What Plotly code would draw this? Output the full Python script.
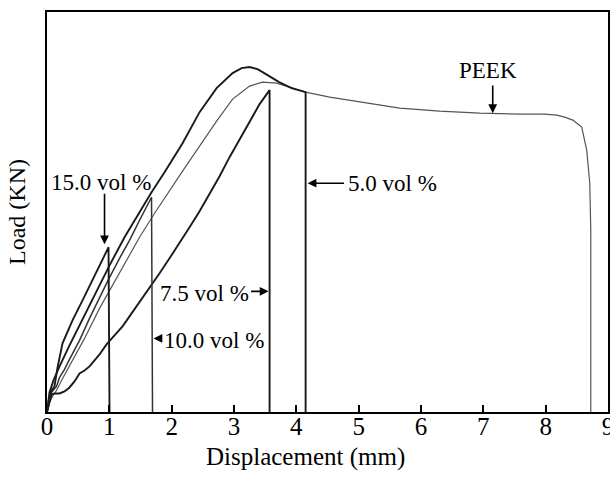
import plotly.graph_objects as go

# Displacement (mm) and load (arbitrary units, no tick labels on the load axis)
peek_x = [0, 0.04, 0.088, 0.152, 0.233, 0.361, 0.602, 0.843, 1.003, 1.244, 1.485, 1.726, 1.966, 2.207,
          2.448, 2.721, 2.978, 3.25, 3.459, 3.684, 3.892, 4.149, 4.535, 4.856, 5.658, 6.3, 6.942, 7.584,
          7.986, 8.178, 8.307, 8.435, 8.579, 8.659, 8.708, 8.724, 8.724]
peek_y = [0, 9.5, 15.5, 21.5, 31.5, 46.5, 73.5, 103.5, 121.5, 148.5, 174.5, 198.5, 221.5, 243.5,
          265.5, 290.5, 312.5, 325.5, 329.5, 328.5, 324.5, 319.5, 314.5, 311.5, 303.5, 300.5, 298.5, 297.5,
          297.5, 296.5, 294.5, 291.5, 284.5, 261.5, 228.5, 181.5, 0]

v5_x = [0, 0.04, 0.104, 0.201, 0.361, 0.602, 0.843, 1.003, 1.244, 1.485, 1.677, 1.886, 2.175, 2.448,
        2.721, 2.978, 3.122, 3.25, 3.379, 3.539, 3.724, 3.924, 4.149, 4.149]
v5_y = [0, 19.5, 31.5, 45.5, 66.5, 96.5, 126.5, 146.5, 174.5, 199.5, 219.5, 239.5, 268.5, 299.5,
        323.5, 338.5, 343.5, 344.5, 342.5, 336.5, 329.5, 323.5, 319.5, 0]

v75_x = [0, 0.04, 0.072, 0.12, 0.201, 0.281, 0.361, 0.441, 0.522, 0.602, 0.682, 0.843, 0.955, 1.083,
         1.212, 1.324, 1.485, 1.645, 1.806, 1.966, 2.127, 2.287, 2.448, 2.608, 2.769, 2.929, 3.09, 3.25,
         3.411, 3.571, 3.571]
v75_y = [0, 10.5, 17.5, 18.5, 18.5, 20.5, 24.5, 30.5, 38.5, 41.5, 45.5, 57.5, 67.5, 76.5,
         85.5, 95.5, 109.5, 123.5, 138.5, 153.5, 168.5, 184.5, 200.5, 217.5, 235.5, 254.5, 272.5, 289.5,
         307.5, 321.5, 0]

v10_x = [0, 0.024, 0.056, 0.104, 0.152, 0.201, 0.281, 0.361, 0.522, 0.682, 0.843, 0.987, 1.164, 1.324,
         1.485, 1.677, 1.693]
v10_y = [0, 11.5, 18.5, 21.5, 25.5, 34.5, 42.5, 52.5, 71.5, 93.5, 114.5, 132.5, 153.5, 171.5,
         191.5, 214.5, 0]

v15_x = [0, 0.04, 0.072, 0.12, 0.169, 0.249, 0.409, 0.57, 0.778, 0.987, 1.003]
v15_y = [0, 13.5, 21.5, 25.5, 44.5, 68.5, 91.5, 111.5, 138.5, 164.5, 0]

x_ticks = [0, 1, 2, 3, 4, 5, 6, 7, 8, 9]
X_RANGE = [0, 9.0005]

FONT = "Liberation Serif"

fig = go.Figure()
fig.add_trace(go.Scatter(x=peek_x, y=peek_y, mode="lines", line=dict(color="#555555", width=1.2), name="PEEK"))
fig.add_trace(go.Scatter(x=v5_x, y=v5_y, mode="lines", line=dict(color="#1a1a1a", width=1.9), name="5.0 vol %"))
fig.add_trace(go.Scatter(x=v75_x, y=v75_y, mode="lines", line=dict(color="#1a1a1a", width=1.9), name="7.5 vol %"))
fig.add_trace(go.Scatter(x=v10_x, y=v10_y, mode="lines", line=dict(color="#333333", width=1.5), name="10.0 vol %"))
# last series drawn on the label-carrying overlay axis (identical range/domain)
fig.add_trace(go.Scatter(x=v15_x, y=v15_y, mode="lines", line=dict(color="#1a1a1a", width=1.9),
                         name="15.0 vol %", xaxis="x2", yaxis="y"))

ann_font = dict(family=FONT, size=23, color="black")
arrow = dict(showarrow=True, arrowhead=2, arrowsize=1.1, arrowwidth=1.6, arrowcolor="black",
             xref="x", yref="y", axref="x", ayref="y", standoff=0, text="")

annotations = [
    dict(x=7.07, y=341, text="PEEK", showarrow=False, font=ann_font, xanchor="center", yanchor="middle"),
    dict(arrow, x=7.151, y=298.5, ax=7.151, ay=327.5),
    dict(x=0.859, y=229.5, text="15.0 vol %", showarrow=False, font=ann_font, xanchor="center", yanchor="middle"),
    dict(arrow, x=0.923, y=167.5, ax=0.923, ay=219.5),
    dict(x=4.80, y=228.5, text="5.0 vol %", showarrow=False, font=ann_font, xanchor="left", yanchor="middle"),
    dict(arrow, x=4.181, y=228.5, ax=4.79, ay=228.5),
    dict(x=3.27, y=118.5, text="7.5 vol %", showarrow=False, font=ann_font, xanchor="right", yanchor="middle"),
    dict(arrow, x=3.555, y=120.5, ax=3.25, ay=120.5),
    dict(x=1.84, y=71.5, text="10.0 vol %", showarrow=False, font=ann_font, xanchor="left", yanchor="middle"),
    dict(arrow, x=1.709, y=73.5, ax=1.85, ay=73.5),
    dict(x=0.46, y=-0.112, xref="paper", yref="paper", text="Displacement (mm)", showarrow=False,
         font=dict(family=FONT, size=25, color="black"), xanchor="center", yanchor="middle"),
]

fig.update_layout(
    width=610, height=478,
    margin=dict(l=47, r=2, t=12, b=66, autoexpand=False),
    paper_bgcolor="white", plot_bgcolor="white",
    showlegend=False,
    font=dict(family=FONT, color="black"),
    annotations=annotations,
    xaxis=dict(
        range=X_RANGE, tickvals=x_ticks, showticklabels=False, automargin=False,
        ticks="inside", ticklen=7, tickwidth=1.5, tickcolor="black",
        showline=True, linecolor="black", linewidth=1.8, mirror=True,
        showgrid=False, zeroline=False,
    ),
    xaxis2=dict(
        range=X_RANGE, overlaying="x", anchor="free", position=0.008, side="bottom",
        tickvals=x_ticks, ticktext=[str(v) for v in x_ticks], ticks="", automargin=False,
        showline=False, showgrid=False, zeroline=False,
        ticklabeloverflow="allow",
        tickfont=dict(family=FONT, size=25, color="black"),
    ),
    yaxis=dict(
        range=[0, 399.5], showticklabels=False, ticks="", automargin=False,
        showline=True, linecolor="black", linewidth=1.8, mirror=True,
        showgrid=False, zeroline=False,
        title=dict(text="Load (KN)", font=dict(family=FONT, size=24, color="black"), standoff=13),
    ),
)

fig.write_html("out.html")
